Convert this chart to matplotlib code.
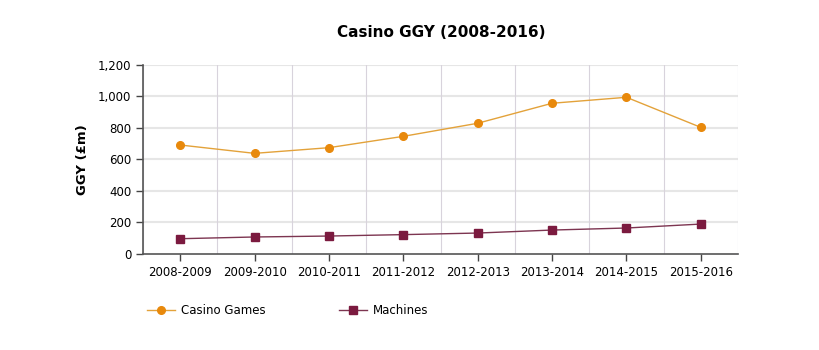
import numpy as np
import matplotlib
matplotlib.use("Agg")
import matplotlib.pyplot as plt

# data
years = ["2008-2009", "2009-2010", "2010-2011", "2011-2012",
         "2012-2013", "2013-2014", "2014-2015", "2015-2016"]
casino_games = [692, 639, 675, 747, 830, 957, 995, 804]
machines = [97, 108, 114, 123, 133, 152, 165, 190]

plt.rcParams['font.family'] = ['DejaVu Sans']

fig = plt.figure(figsize=(8.2, 3.5), dpi=100)
ax = fig.add_axes([0.1744, 0.2743, 0.7256, 0.54])

x = np.arange(len(years))
l1, = ax.plot(x, casino_games, color="#E3A23A", lw=1, marker="o", ms=5.5,
              mfc="#E8890C", mec="#E8890C", label="Casino Games", zorder=3)
l2, = ax.plot(x, machines, color="#7D3551", lw=1, marker="s", ms=5.5,
              mfc="#7B1A3F", mec="#7B1A3F", label="Machines", zorder=3)

ax.set_xlim(-0.5, len(years) - 0.5)
ax.set_ylim(0, 1200)
ax.set_yticks(range(0, 1201, 200))
ax.set_yticklabels(["{:,}".format(v) for v in range(0, 1201, 200)], fontsize=8.5)
ax.set_xticks(x)
ax.set_xticklabels(years, fontsize=8.5)
ax.set_xticks(np.arange(-0.5, len(years), 1), minor=True)

# grid
for v in range(200, 1201, 200):
    ax.axhline(v, color="#e6e6e6", lw=1.5, zorder=1)
ax.grid(which="minor", axis="x", color="#d8d3dc", lw=0.8, zorder=1)
ax.tick_params(axis="x", which="minor", length=0)
ax.tick_params(axis="both", which="major", length=5, color="#444444", width=1)

for s in ["top", "right"]:
    ax.spines[s].set_visible(False)
for s in ["left", "bottom"]:
    ax.spines[s].set_color("#555555")
    ax.spines[s].set_linewidth(1.2)

ax.set_ylabel("GGY (£m)", fontsize=9.5, fontweight="bold", labelpad=6)
fig.text(0.538, 0.893, "Casino GGY (2008-2016)", ha="center", fontsize=11, fontweight="bold")

fig.legend(handles=[l1, l2], loc="center left", bbox_to_anchor=(0.166, 0.113),
           ncol=2, frameon=False, fontsize=8.5, columnspacing=6.2,
           handlelength=2.4, handletextpad=0.5)

fig.savefig("out.png", dpi=100)
